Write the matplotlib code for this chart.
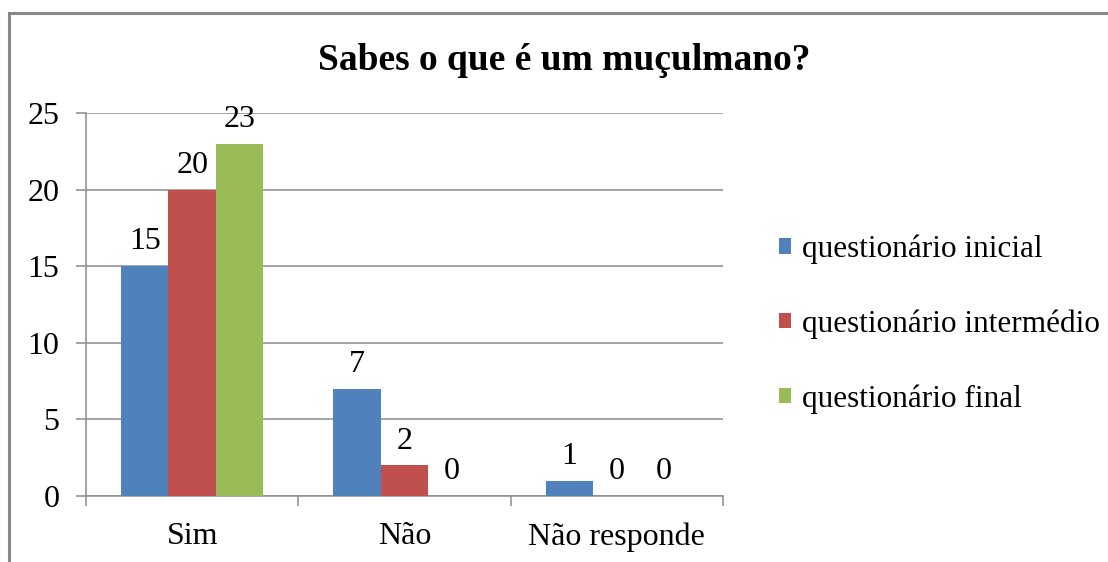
import numpy as np
import matplotlib
matplotlib.use("Agg")
import matplotlib.pyplot as plt
from matplotlib.patches import Rectangle

plt.rcParams['font.family'] = ['Liberation Serif', 'DejaVu Serif']

categorias = ['Sim', 'Não', 'Não responde']
inicial = [15, 7, 1]
intermedio = [20, 2, 0]
final = [23, 0, 0]
series = ['questionário inicial', 'questionário intermédio', 'questionário final']
cores = ['#4F81BD', '#C0504D', '#9BBB59']

fig = plt.figure(figsize=(11.08, 5.62), dpi=100)
ax = fig.add_axes([86/1108, 1-496/562, (723-86)/1108, (496-113)/562])

# moldura do grafico (cortada em baixo e a direita)
fig.patches.append(Rectangle((9/1108, -0.1), 1.2, 1.1 - 13/562,
                             transform=fig.transFigure, fill=False,
                             edgecolor='#888888', linewidth=2.2))

x = np.arange(len(categorias))
w = 0.223
for i, (vals, nome, cor) in enumerate(zip([inicial, intermedio, final], series, cores)):
    b = ax.bar(x + (i-1)*w, vals, w, color=cor, label=nome, zorder=3)
    ax.bar_label(b, padding=7, fontsize=23)

ax.set_xlim(-0.5, 2.5)
ax.set_ylim(0, 25)
ax.set_yticks([0, 5, 10, 15, 20, 25])
ax.yaxis.grid(True, color='#8c8c8c', linewidth=1.1, zorder=0)
ax.set_axisbelow(True)

ax.set_xticks(x)
ax.set_xticklabels(categorias)
ax.set_xticks([-0.5, 0.5, 1.5, 2.5], minor=True)
ax.tick_params(axis='x', which='major', length=0, pad=19, labelsize=23)
ax.tick_params(axis='x', which='minor', length=7, direction='out', color='#8c8c8c', width=1.1)
ax.tick_params(axis='y', length=7, direction='out', color='#8c8c8c', width=1.1, pad=12, labelsize=23)

for s in ['top', 'right']:
    ax.spines[s].set_visible(False)
for s in ['left', 'bottom']:
    ax.spines[s].set_color('#8c8c8c')
    ax.spines[s].set_linewidth(1.1)

fig.text(564/1108, 1-60/562, 'Sabes o que é um muçulmano?', ha='center', va='center',
         fontsize=27, fontweight='bold')

fig.legend(loc='center left', bbox_to_anchor=(763/1108, 1-324/562), frameon=False,
           fontsize=22.5, handlelength=0.4, handleheight=0.4, handletextpad=0.35,
           labelspacing=1.45, borderpad=0)

fig.savefig('out.png', dpi=100)
